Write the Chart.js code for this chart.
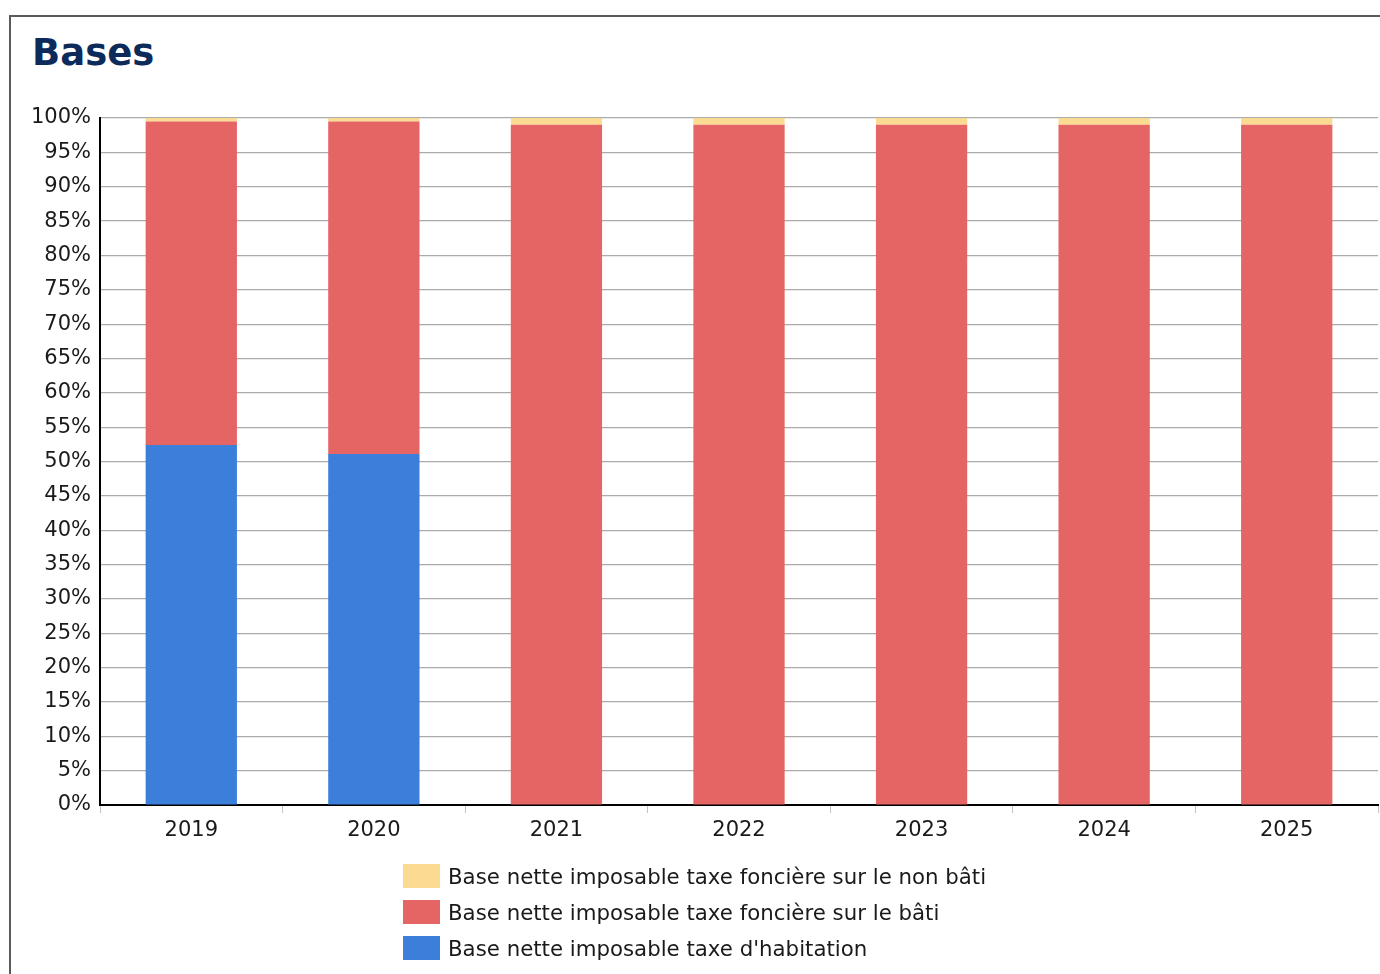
<!DOCTYPE html>
<html lang="fr">
<head>
<meta charset="utf-8">
<title>Bases</title>
<script src="https://cdn.jsdelivr.net/npm/chart.js@4/dist/chart.umd.min.js"></script>
<style>
  html, body { margin: 0; padding: 0; background: #fff; }
  body { width: 1380px; height: 974px; position: relative; overflow: hidden; font-family: "DejaVu Sans", sans-serif; }
  #frame { position: absolute; left: 9px; top: 15px; width: 2000px; height: 2000px;
           border-top: 2px solid #5a5a5a; border-left: 2px solid #5a5a5a; box-sizing: border-box; }
  #title { position: absolute; left: 32px; top: 34px; margin: 0; font: bold 37px/1 "DejaVu Sans", sans-serif; color: #0c2b5b; }
  #wrap { position: absolute; left: 0; top: 0; width: 1380px; height: 974px; }
  #legend { position: absolute; left: 403px; top: 858px; margin: 0; padding: 0; list-style: none; }
  #legend li { display: flex; align-items: center; height: 36px; }
  #legend .sw { width: 37px; height: 24px; margin-right: 8px; }
  #legend .tx { font: 21.3px "DejaVu Sans", sans-serif; color: #1a1a1a; white-space: nowrap; }
</style>
</head>
<body>
<div id="frame"></div>
<h1 id="title">Bases</h1>
<div id="wrap"><canvas id="chart" width="1380" height="974"></canvas></div>
<ul id="legend"></ul>
<script>
// Years shown on the horizontal axis
const years = ['2019', '2020', '2021', '2022', '2023', '2024', '2025'];

// Share of each tax base in the total (percent)
const habitation = [52.4, 51.1, 0, 0, 0, 0, 0];
const foncierBati = [47.1, 48.4, 99.0, 99.0, 99.0, 99.0, 99.0];
const foncierNonBati = [0.5, 0.5, 1.0, 1.0, 1.0, 1.0, 1.0];

// Series names
const seriesNames = [
  "Base nette imposable taxe d'habitation",
  'Base nette imposable taxe foncière sur le bâti',
  'Base nette imposable taxe foncière sur le non bâti'
];

// Vertical axis ticks (percent)
const yTicks = [0, 5, 10, 15, 20, 25, 30, 35, 40, 45, 50, 55, 60, 65, 70, 75, 80, 85, 90, 95, 100];

const colors = ['#3b7fdb', '#e56464', '#fbdb92'];

const ctx = document.getElementById('chart');
const chart = new Chart(ctx, {
  type: 'bar',
  data: {
    labels: years,
    datasets: [habitation, foncierBati, foncierNonBati].map((d, i) => ({
      label: seriesNames[i],
      data: d,
      backgroundColor: colors[i],
      borderWidth: 0,
      barPercentage: 0.5,
      categoryPercentage: 1.0
    }))
  },
  options: {
    responsive: false,
    animation: false,
    devicePixelRatio: 1,
    layout: { padding: { left: 0, right: 2, top: 118, bottom: 129 } },
    plugins: {
      legend: { display: false },
      title: { display: false },
      tooltip: { enabled: false }
    },
    scales: {
      x: {
        stacked: true,
        afterFit: s => { s.height = 40; },
        grid: { drawOnChartArea: false, drawTicks: true, tickLength: 8, color: '#c4c4c4', lineWidth: 1 },
        border: { display: true, color: '#000', width: 2 },
        ticks: { color: '#1a1a1a', padding: 5, font: { family: 'DejaVu Sans', size: 21 } }
      },
      y: {
        stacked: true,
        min: 0,
        max: 100,
        afterFit: s => { s.width = 100; },
        afterBuildTicks: s => { s.ticks = yTicks.map(v => ({ value: v })); },
        grid: { drawTicks: false, color: '#ababab', lineWidth: 1.2 },
        border: { display: true, color: '#000', width: 2 },
        ticks: {
          color: '#1a1a1a',
          padding: 9,
          autoSkip: false,
          font: { family: 'DejaVu Sans', size: 21 },
          callback: v => v + '%'
        }
      }
    }
  }
});

// Legend listed top-down in reverse stacking order
const legend = document.getElementById('legend');
chart.data.datasets.slice().reverse().forEach(ds => {
  const li = document.createElement('li');
  const sw = document.createElement('span');
  sw.className = 'sw';
  sw.style.background = ds.backgroundColor;
  const tx = document.createElement('span');
  tx.className = 'tx';
  tx.textContent = ds.label;
  li.appendChild(sw);
  li.appendChild(tx);
  legend.appendChild(li);
});
</script>
</body>
</html>
